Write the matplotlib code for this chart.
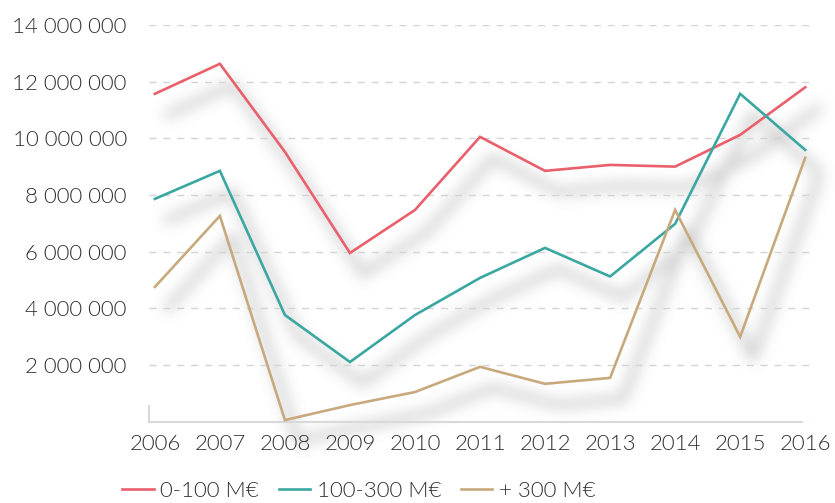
import matplotlib
matplotlib.use("Agg")
import numpy as np
import matplotlib.pyplot as plt
from matplotlib.ticker import FuncFormatter

years = [2006, 2007, 2008, 2009, 2010, 2011, 2012, 2013, 2014, 2015, 2016]
s_small = [11.57, 12.63, 9.52, 5.95, 7.47, 10.05, 8.85, 9.06, 9.00, 10.12, 11.80]
s_mid = [7.86, 8.85, 3.76, 2.10, 3.76, 5.07, 6.13, 5.12, 6.98, 11.57, 9.59]
s_large = [4.75, 7.26, 0.05, 0.58, 1.04, 1.93, 1.33, 1.54, 7.47, 2.99, 9.31]
series_names = ["0-100 M€", "100-300 M€", "+ 300 M€"]
colors = ["#E95F6B", "#3AA7A1", "#C8A97E"]
yticks = [0, 2, 4, 6, 8, 10, 12, 14]

plt.rcParams['font.family'] = ['Lato', 'DejaVu Sans']
plt.rcParams['font.weight'] = 300
txt = "#303030"
W, H = 835, 503
pos = [149/W, 1-421.5/H, (813-149)/W, (421.5-25)/H]
xlim = (2006 - 0.09, 2016 + 0.12)
ylim = (0, 14e6)
all_series = [s_small, s_mid, s_large]

# ---- shadow layer: draw lines offscreen, blur them ----
fs = plt.figure(figsize=(W/100, H/100), dpi=100)
fs.patch.set_alpha(0)
axs = fs.add_axes(pos)
axs.set_axis_off()
axs.set_xlim(*xlim); axs.set_ylim(*ylim)
for vals in all_series:
    axs.plot(years, [v * 1e6 for v in vals], color="black", lw=5, clip_on=False)
fs.canvas.draw()
a = np.asarray(fs.canvas.buffer_rgba())[:, :, 3].astype(float) / 255.0
plt.close(fs)
dx, dy = 13, 21
sh = np.zeros_like(a)
sh[dy:, dx:] = a[:-dy, :-dx]
sig = 7.0
r = int(3 * sig)
k = np.exp(-0.5 * (np.arange(-r, r + 1) / sig) ** 2)
k /= k.sum()
sh = np.apply_along_axis(lambda m: np.convolve(m, k, mode="same"), 0, sh)
sh = np.apply_along_axis(lambda m: np.convolve(m, k, mode="same"), 1, sh)
sh = np.clip(sh * 0.45, 0, 1)
rgba = np.zeros(sh.shape + (4,))
rgba[..., :3] = 0.5
rgba[..., 3] = sh

fig = plt.figure(figsize=(W/100, H/100), dpi=100)
fig.figimage(rgba, 0, 0, origin="upper", zorder=-1)
ax = fig.add_axes(pos)
ax.patch.set_alpha(0)

for vals, c, n in zip(all_series, colors, series_names):
    ax.plot(years, [v * 1e6 for v in vals], color=c, lw=1.9, label=n,
            solid_joinstyle="miter", zorder=3)

ax.set_xlim(*xlim)
ax.set_ylim(*ylim)
ax.set_yticks([t * 1e6 for t in yticks])
ax.yaxis.set_major_formatter(FuncFormatter(
    lambda v, p: "" if v == 0 else f"{int(round(v)):,}".replace(",", " ")))
ax.set_xticks(years)
ax.set_xticklabels([str(y) for y in years])
ax.grid(axis="y", color="#d4d4d4", ls=(0, (5, 5)), lw=1.0, zorder=0)
ax.set_axisbelow(True)
for s in ["top", "right"]:
    ax.spines[s].set_visible(False)
ax.spines["left"].set_bounds(0, 0.55e6)
ax.spines["left"].set_color("#d9d9d9")
ax.spines["left"].set_linewidth(1.5)
ax.spines["bottom"].set_color("#d9d9d9")
ax.spines["bottom"].set_linewidth(1.5)
ax.spines["bottom"].set_bounds(xlim[0], 2016 - 0.05)
ax.tick_params(axis="y", length=0, pad=16, labelsize=16, labelcolor=txt)
ax.tick_params(axis="x", length=0, pad=9, labelsize=16, labelcolor=txt)

fig.legend(loc="center", bbox_to_anchor=(359/W, 1-491/H), ncol=3,
           frameon=False, fontsize=16, handlelength=1.4, columnspacing=0.9,
           handletextpad=0.3, labelcolor=txt)

fig.savefig("out.png", dpi=100, facecolor="white")
